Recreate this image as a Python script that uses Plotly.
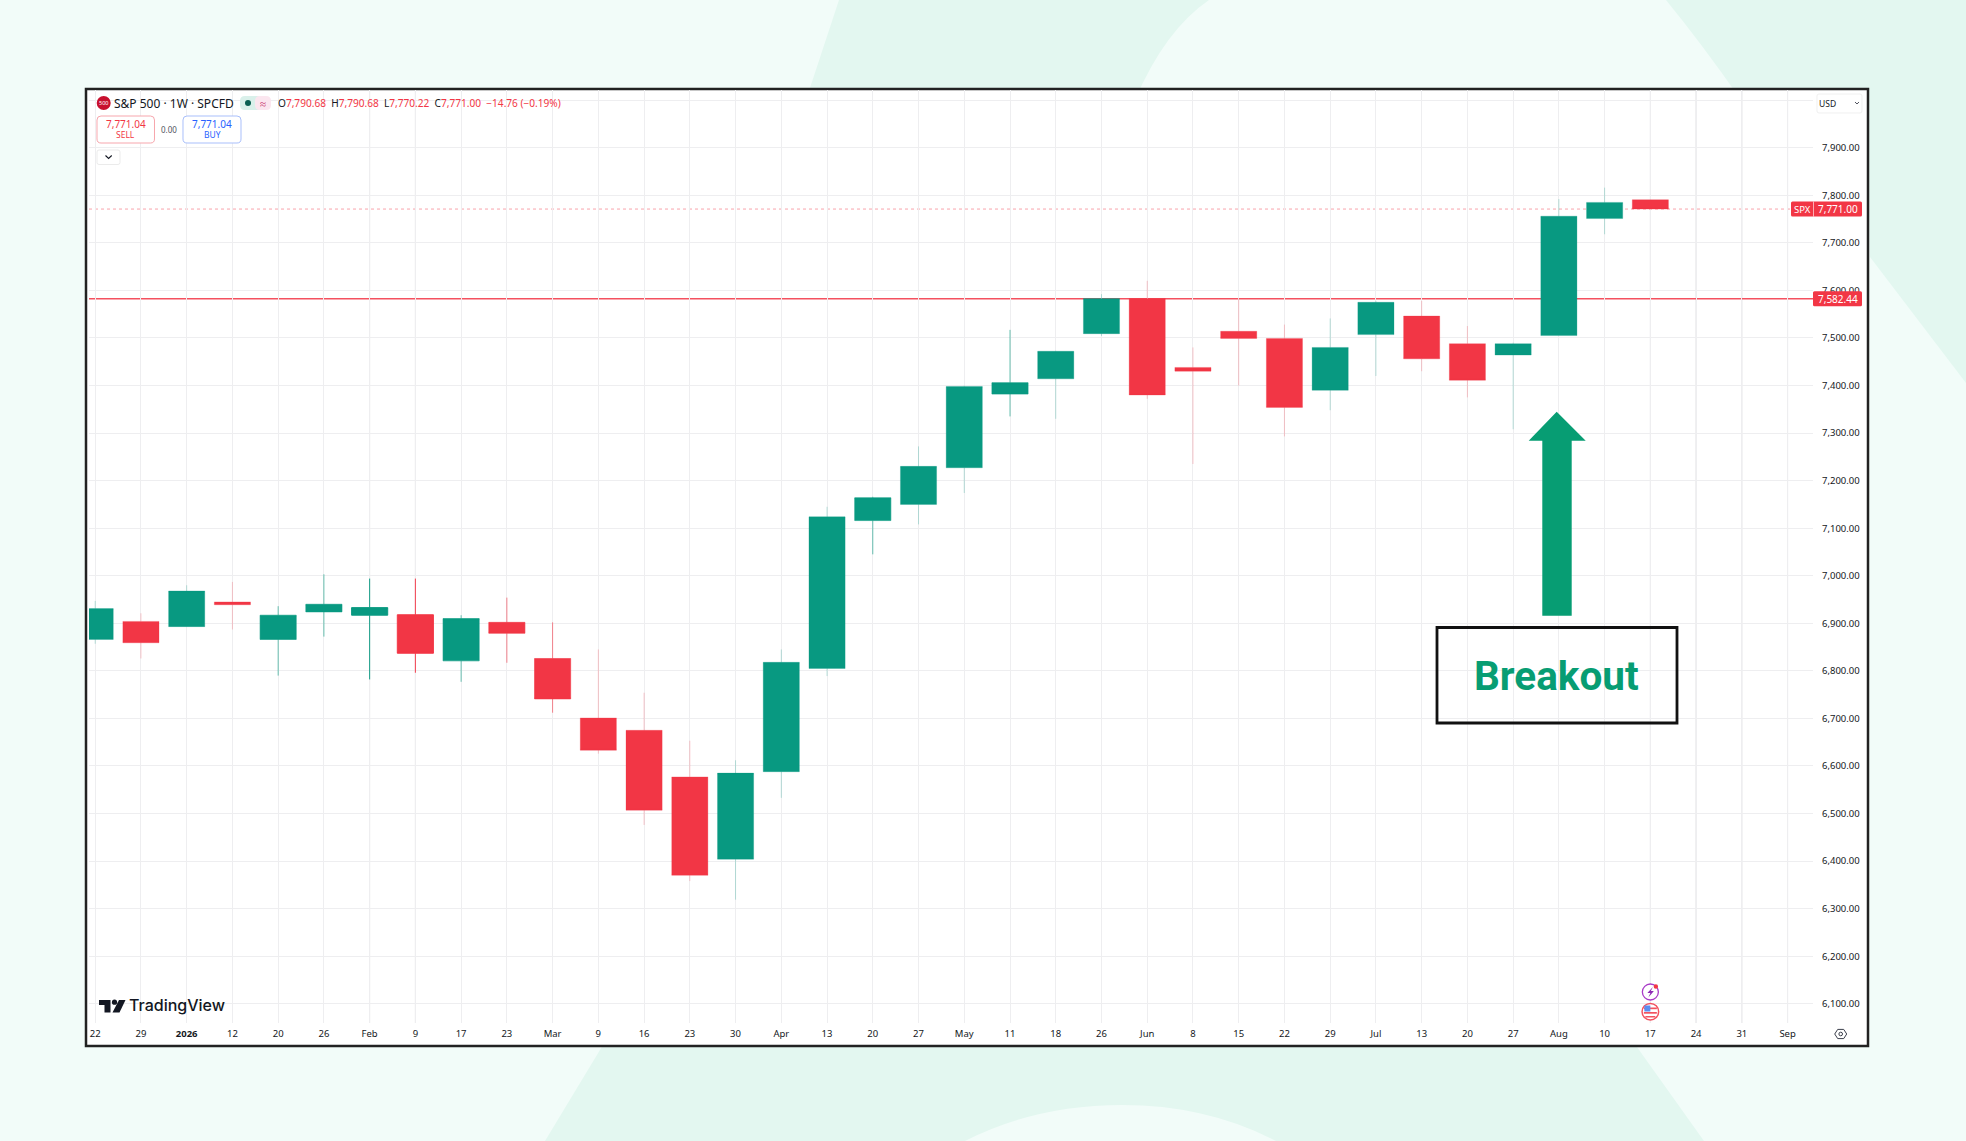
import plotly.graph_objects as go

# ---------- data ----------
week_labels = ["22","29","<b>2026</b>","12","20","26","Feb","9","17","23","Mar","9","16","23","30","Apr","13","20","27",
               "May","11","18","26","Jun","8","15","22","29","Jul","13","20","27","Aug","10","17","24","31","Sep"]
opens  = [6866,6904,6893,6945,6866,6924,6917,6918,6821,6902,6826,6701,6675,6577,6404,6588,6805,7116,7150,
          7227,7382,7414,7509,7583,7438,7514,7499,7390,7507,7546,7488,7464,7505,7751,7790.68]
highs  = [6947,6921,6980,6987,6936,7003,6994,6994,6917,6954,6902,6845,6754,6653,6612,6845,7145,7166,7272,
          7400,7517,7473,7592,7620,7480,7583,7528,7541,7578,7578,7525,7490,7792,7816,7790.68]
lows   = [6857,6826,6893,6887,6790,6872,6782,6796,6777,6817,6712,6626,6476,6358,6319,6533,6789,7045,7108,
          7174,7335,7330,7504,7372,7235,7400,7293,7348,7420,7430,7375,7308,7505,7718,7770.22]
closes = [6931,6859,6968,6939,6917,6940,6933,6837,6910,6879,6741,6633,6507,6370,6585,6818,7124,7164,7230,
          7398,7406,7472,7583,7380,7430,7499,7354,7480,7575,7456,7411,7488,7756,7785,7771.00]
price_ticks = [6100,6200,6300,6400,6500,6600,6700,6800,6900,7000,7100,7200,7300,7400,7500,7600,7700,7800,7900,8000]
price_tick_labels = [f"{v:,.2f}" for v in price_ticks[:-1]] + [""]
breakout_level = 7582.44
last_price = 7771.00
strong_wicks = [6, 7]
medium_wicks = [4, 5, 8, 9, 10, 17, 20]
dark_verticals = [6, 7, 34, 35, 36, 37]

# ---------- geometry ----------
W, H = 1966, 1141
L, R, T, B = 89, 1813, 90, 1023
X0, DX = 95.2, 45.74
YPX_7900, PX_PER = 147.7, 0.4756

def px(x): return (x - L) / (R - L)
def py(y): return 1 - (y - T) / (B - T)
def pp(x, y): return f"{px(x):.5f},{py(y):.5f}"
def val_y(v): return YPX_7900 + (7900 - v) * PX_PER

GREEN, RED, TEAL, INK = "#089981", "#F23645", "#079D73", "#131722"
BG_LIGHT, BG_DARK = "#F2FCF9", "#E3F7F0"
FONT = "Noto Sans"

xs = list(range(len(week_labels)))
n = len(opens)
shapes, notes = [], []

def poly(points, fill, layer="above", line=None, width=0):
    d = "M" + " L".join(pp(*p) for p in points) + " Z"
    shapes.append(dict(type="path", xref="paper", yref="paper", path=d, fillcolor=fill, layer=layer,
                       line=dict(width=width, color=line or fill)))

def raw(d, fill="rgba(0,0,0,0)", layer="above", line=None, width=0):
    shapes.append(dict(type="path", xref="paper", yref="paper", path=d, fillcolor=fill, layer=layer,
                       line=dict(width=width, color=line or "rgba(0,0,0,0)")))

def rect(x0, y0, x1, y1, fill, layer="above", line=None, width=0):
    shapes.append(dict(type="rect", xref="paper", yref="paper", x0=px(x0), x1=px(x1), y0=py(y0), y1=py(y1),
                       fillcolor=fill, layer=layer, line=dict(width=width, color=line or "rgba(0,0,0,0)")))

def rrect(x0, y0, x1, y1, r, fill, line=None, width=0):
    d = (f"M{pp(x0+r,y0)} L{pp(x1-r,y0)} Q{pp(x1,y0)} {pp(x1,y0+r)} L{pp(x1,y1-r)} Q{pp(x1,y1)} {pp(x1-r,y1)} "
         f"L{pp(x0+r,y1)} Q{pp(x0,y1)} {pp(x0,y1-r)} L{pp(x0,y0+r)} Q{pp(x0,y0)} {pp(x0+r,y0)} Z")
    raw(d, fill, line=line, width=width)

def circle(cx, cy, r, fill, line=None, width=0):
    rect(cx-r, cy-r, cx+r, cy+r, fill, line=line, width=width)
    shapes[-1]["type"] = "circle"

def text(x, y, s, size=10, color=INK, anchor="left", family=FONT, weight=None):
    f = dict(size=size, color=color, family=family)
    if weight: f["weight"] = weight
    notes.append(dict(xref="paper", yref="paper", x=px(x), y=py(y), text=s, showarrow=False, xanchor=anchor,
                      yanchor="middle", borderpad=0, borderwidth=0, font=f))

# ---------- page background ----------
raw(f"M{pp(839,0)} L{pp(806,100)} L{pp(1135,100)} Q{pp(1165,30)} {pp(1209,0)} Z", BG_DARK, "below")
raw(f"M{pp(1666,0)} Q{pp(1702,44)} {pp(1741,100)} L{pp(1866,100)} L{pp(1870,257)} L{pp(1966,383)} L{pp(1966,0)} Z", BG_DARK, "below")
raw(f"M{pp(606,1040)} L{pp(545,1141)} L{pp(965,1141)} Q{pp(1036,1105)} {pp(1122,1105)} Q{pp(1207,1105)} {pp(1276,1141)} "
    f"L{pp(1704,1141)} L{pp(1632,1040)} Z", BG_DARK, "below")

# ---------- chart frame ----------
rect(86, 89, 1868, 1046, "#FFFFFF", "below", "#222222", 2.5)

# ---------- darker vertical grid weeks ----------
for i in dark_verticals:
    shapes.append(dict(type="line", xref="x", yref="paper", x0=i, x1=i, y0=0, y1=1, layer="below",
                       line=dict(color="#DADADD", width=1)))

# ---------- price lines ----------
shapes.append(dict(type="line", xref="paper", yref="y", x0=0, x1=1, y0=last_price, y1=last_price, layer="below",
                   line=dict(color="rgba(242,54,69,0.45)", width=1, dash="dot")))
shapes.append(dict(type="line", xref="paper", yref="y", x0=0, x1=1, y0=breakout_level, y1=breakout_level, layer="below",
                   line=dict(color="#F4505F", width=1.6)))

# ---------- price-axis tags ----------
ly = val_y(last_price)
rrect(1791, ly-7.5, 1862, ly+7.5, 1.5, RED)
text(1802, ly, "SPX", 9.5, "#FFFFFF", "center")
text(1838, ly, f"{last_price:,.2f}", 10, "#FFFFFF", "center")
shapes.append(dict(type="line", xref="paper", yref="paper", x0=px(1813.5), x1=px(1813.5), y0=py(ly-7.5), y1=py(ly+7.5),
                   line=dict(color="rgba(255,255,255,.6)", width=1)))
by = val_y(breakout_level)
rrect(1813, by-7.5, 1862, by+7.5, 1.5, RED)
text(1838, by, f"{breakout_level:,.2f}", 10, "#FFFFFF", "center")

# ---------- header ----------
circle(103.7, 103, 7, "#C8102E")
text(103.7, 103, "500", 5.5, "#FFFFFF", "center")
text(113.5, 103, "S&amp;P 500 · 1W · SPCFD", 12, INK)
rrect(240, 96, 262, 110, 5, "#D9F0EA")
rrect(255, 96, 271, 110, 5, "#FBE6EF")
circle(248, 103, 3, "#0A5F52")
text(263, 103, "≈", 11, "#C2185B", "center")
r_ = lambda s: f'<span style="color:{RED}">{s}</span>'
text(277.5, 103, "O" + r_("7,790.68") + "  H" + r_("7,790.68") + "  L" + r_("7,770.22") + "  C" + r_("7,771.00") +
     "  " + r_("−14.76 (−0.19%)"), 10.1)
rrect(97, 116, 154.5, 143, 4, "#FFFFFF", "#F7A6AD", 1)
text(125.7, 124, "7,771.04", 10, RED, "center")
text(125.7, 135, "SELL", 8.5, RED, "center")
text(168.8, 130, "0.00", 8, "#50535E", "center")
rrect(183, 116, 241, 143, 4, "#FFFFFF", "#A9BFFB", 1)
text(212, 124, "7,771.04", 10, "#2962FF", "center")
text(212, 135, "BUY", 8.5, "#2962FF", "center")
rrect(97, 150, 120, 164.5, 2, "#FFFFFF", "#EBEBEB", 1)
raw(f"M{pp(105.5,155.5)} L{pp(108.6,158.5)} L{pp(111.7,155.5)}", line=INK, width=1.1)
rrect(1817, 94, 1862, 113, 2, "#FFFFFF", "#F0F0F0", 1)
text(1819, 103, "USD", 8.5, INK)
raw(f"M{pp(1855,102)} L{pp(1857,104)} L{pp(1859,102)}", line="#50535E", width=1)

# ---------- TradingView mark ----------
poly([(99,1000),(110.5,1000),(110.5,1012.5),(104.5,1012.5),(104.5,1005),(99,1005)], "#131722")
circle(114.5, 1002.2, 2.6, "#131722")
poly([(119,1000),(125.5,1000),(119.5,1012.5),(112.5,1012.5)], "#131722")
text(128.5, 1005, "TradingView", 16, "#131722", family="Inter", weight=500)

# ---------- event icons ----------
ex = X0 + 34 * DX
circle(ex, 992, 8, "#FFFFFF", "#A93BC8", 1.3)
poly([(ex+2.5,987),(ex-3,993),(ex,993),(ex-2,997.5),(ex+3.5,991),(ex+0.5,991)], "#8E2BB5")
circle(ex+5.5, 986.5, 2.2, RED)
circle(ex, 1011.7, 8.3, "#FFFFFF", "#F2525F", 1.5)
rect(ex-6.5, 1007.5, ex+6.5, 1009.2, "#F2525F")
rect(ex-6.5, 1012, ex+6.5, 1013.7, "#F2525F")
rect(ex-5, 1016, ex+5, 1017.5, "#F2525F")
rect(ex-6, 1005.5, ex, 1011.5, "#5B8DEF")

# ---------- settings icon ----------
sx, sy = 1840.7, 1034
raw(f"M{pp(sx-6,sy)} L{pp(sx-3,sy-4.6)} L{pp(sx+3,sy-4.6)} L{pp(sx+6,sy)} L{pp(sx+3,sy+4.6)} L{pp(sx-3,sy+4.6)} Z",
    line="#3A3E4A", width=1)
circle(sx, sy, 1.8, "#FFFFFF", "#3A3E4A", 1)

# ---------- breakout callout ----------
poly([(1556.7,411.7),(1585.7,440.7),(1571.7,440.7),(1571.7,615.7),(1542.3,615.7),(1542.3,440.7),(1528.7,440.7)], TEAL)
rect(1437, 627.5, 1677, 723, "rgba(0,0,0,0)", line="#111111", width=2.8)
text(1556.5, 676, "Breakout", 40.5, TEAL, "center", "Roboto", 700)

# ---------- candles ----------
fig = go.Figure()
groups = [
    ([i for i in range(n) if i not in strong_wicks + medium_wicks], 0.27),
    ([i for i in medium_wicks], 0.6),
    ([i for i in strong_wicks], 0.95),
]
for idx, alpha in groups:
    fig.add_trace(go.Candlestick(
        x=[xs[i] for i in idx], open=[opens[i] for i in idx], high=[highs[i] for i in idx],
        low=[lows[i] for i in idx], close=[closes[i] for i in idx], whiskerwidth=0,
        increasing=dict(fillcolor=GREEN, line=dict(color=f"rgba(8,153,129,{alpha})", width=1)),
        decreasing=dict(fillcolor=RED, line=dict(color=f"rgba(242,54,69,{alpha})", width=1)),
        hoverinfo="skip", showlegend=False))

fig.update_layout(
    width=W, height=H, autosize=False,
    margin=dict(l=L, r=W-R, t=T, b=H-B, pad=0),
    paper_bgcolor=BG_LIGHT, plot_bgcolor="rgba(0,0,0,0)",
    boxmode="overlay", boxgap=0.21, boxgroupgap=0,
    showlegend=False, shapes=shapes, annotations=notes,
    font=dict(family=FONT, color=INK, size=10),
    xaxis=dict(range=[(L-X0)/DX, (R-X0)/DX], tickmode="array", tickvals=xs, ticktext=week_labels,
               showgrid=True, gridcolor="#EEEEF0", gridwidth=1, zeroline=False, showline=False, ticks="",
               rangeslider=dict(visible=False), tickangle=0, tickfont=dict(size=9.5, color=INK, family=FONT),
               ticklabelstandoff=3),
    yaxis=dict(range=[7900-(B-YPX_7900)/PX_PER, 7900+(YPX_7900-T)/PX_PER], side="right", tickmode="array",
               tickvals=price_ticks, ticktext=price_tick_labels, showgrid=True, gridcolor="#EEEEF0", gridwidth=1,
               zeroline=False, showline=False, ticks="", tickfont=dict(size=9.5, color=INK, family=FONT),
               ticklabelstandoff=8),
)

fig.write_html("out.html", post_script="document.body.style.margin='0';document.body.style.overflow='hidden';",
               config=dict(displayModeBar=False))
